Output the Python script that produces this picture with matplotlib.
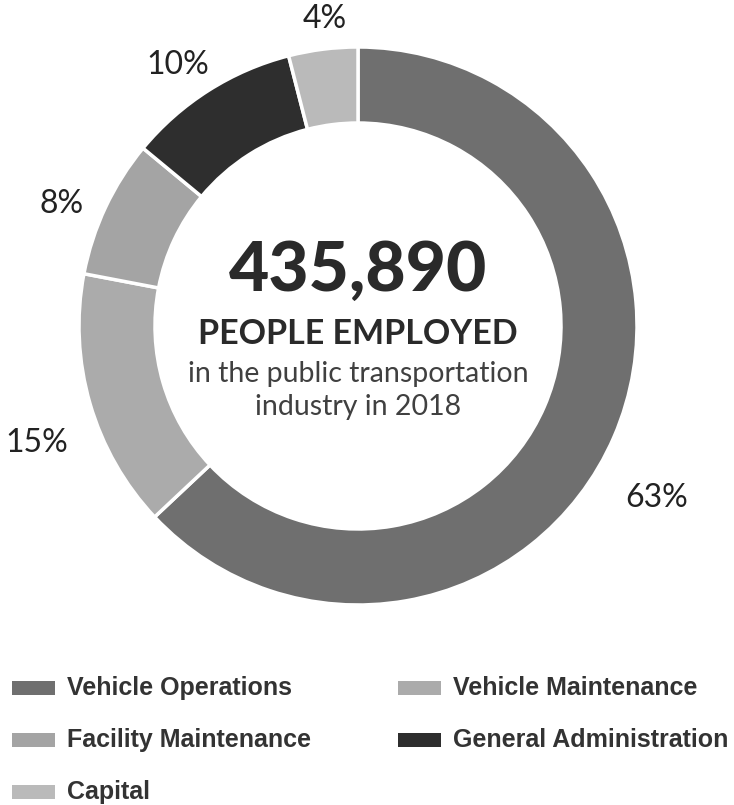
import matplotlib
matplotlib.use("Agg")
import matplotlib.pyplot as plt
from matplotlib.patches import Rectangle

# data
categories = ["Vehicle Operations", "Vehicle Maintenance", "Facility Maintenance",
              "General Administration", "Capital"]
shares = [63, 15, 8, 10, 4]
colors = ["#6f6f6f", "#ababab", "#a4a4a4", "#2e2e2e", "#bababa"]
total_employed = "435,890"

# small nudges (pixels, right / down) of the percent labels from their default spot
label_nudge = [(4, 45), (-13, 27), (-6, 15), (-8, 10), (7, 11)]

W, H = 734, 805
fig = plt.figure(figsize=(W / 100, H / 100), dpi=100)
ax = fig.add_axes([0, 0, 1, 1])

cx, cy = 358, H - 326
r_out = 279
ring = 76

wedges, texts = ax.pie(
    shares, colors=colors, startangle=90, counterclock=False,
    center=(cx, cy), radius=r_out,
    labels=[f"{s}%" for s in shares], labeldistance=1.15,
    wedgeprops=dict(width=ring, edgecolor="white", linewidth=2.5),
    textprops=dict(fontsize=23, color="#222222", family="Lato"),
)
for t, (dx, dy) in zip(texts, label_nudge):
    x, y = t.get_position()
    t.set_position((x + dx, y - dy))
    t.set_ha("center")
    t.set_va("center")

# pie resets the limits, so set them afterwards
ax.set_xlim(0, W)
ax.set_ylim(0, H)
ax.set_aspect("equal")
ax.axis("off")

# center text
ax.text(cx, H - 271, total_employed, ha="center", va="center",
        fontsize=50, fontweight="black", family="Lato", color="#2a2a2a")
ax.text(cx, H - 334, "PEOPLE EMPLOYED", ha="center", va="center",
        fontsize=24.5, fontweight="bold", family="Lato", color="#2a2a2a")
ax.text(cx, H - 374, "in the public transportation", ha="center", va="center",
        fontsize=20.5, fontweight="normal", family="Lato", color="#404040")
ax.text(cx, H - 407, "industry in 2018", ha="center", va="center",
        fontsize=20.5, fontweight="normal", family="Lato", color="#404040")

# legend (two columns)
col_x = [12, 398]
row_y = [H - 688, H - 740, H - 792]
for i, (name, c) in enumerate(zip(categories, colors)):
    x = col_x[i % 2]
    y = row_y[i // 2]
    ax.add_patch(Rectangle((x, y - 7), 43, 14, facecolor=c, edgecolor="none"))
    ax.text(x + 55, y, name, ha="left", va="center", fontsize=18,
            fontweight="bold", family="Liberation Sans", color="#333333")

fig.savefig("out.png", dpi=100)
